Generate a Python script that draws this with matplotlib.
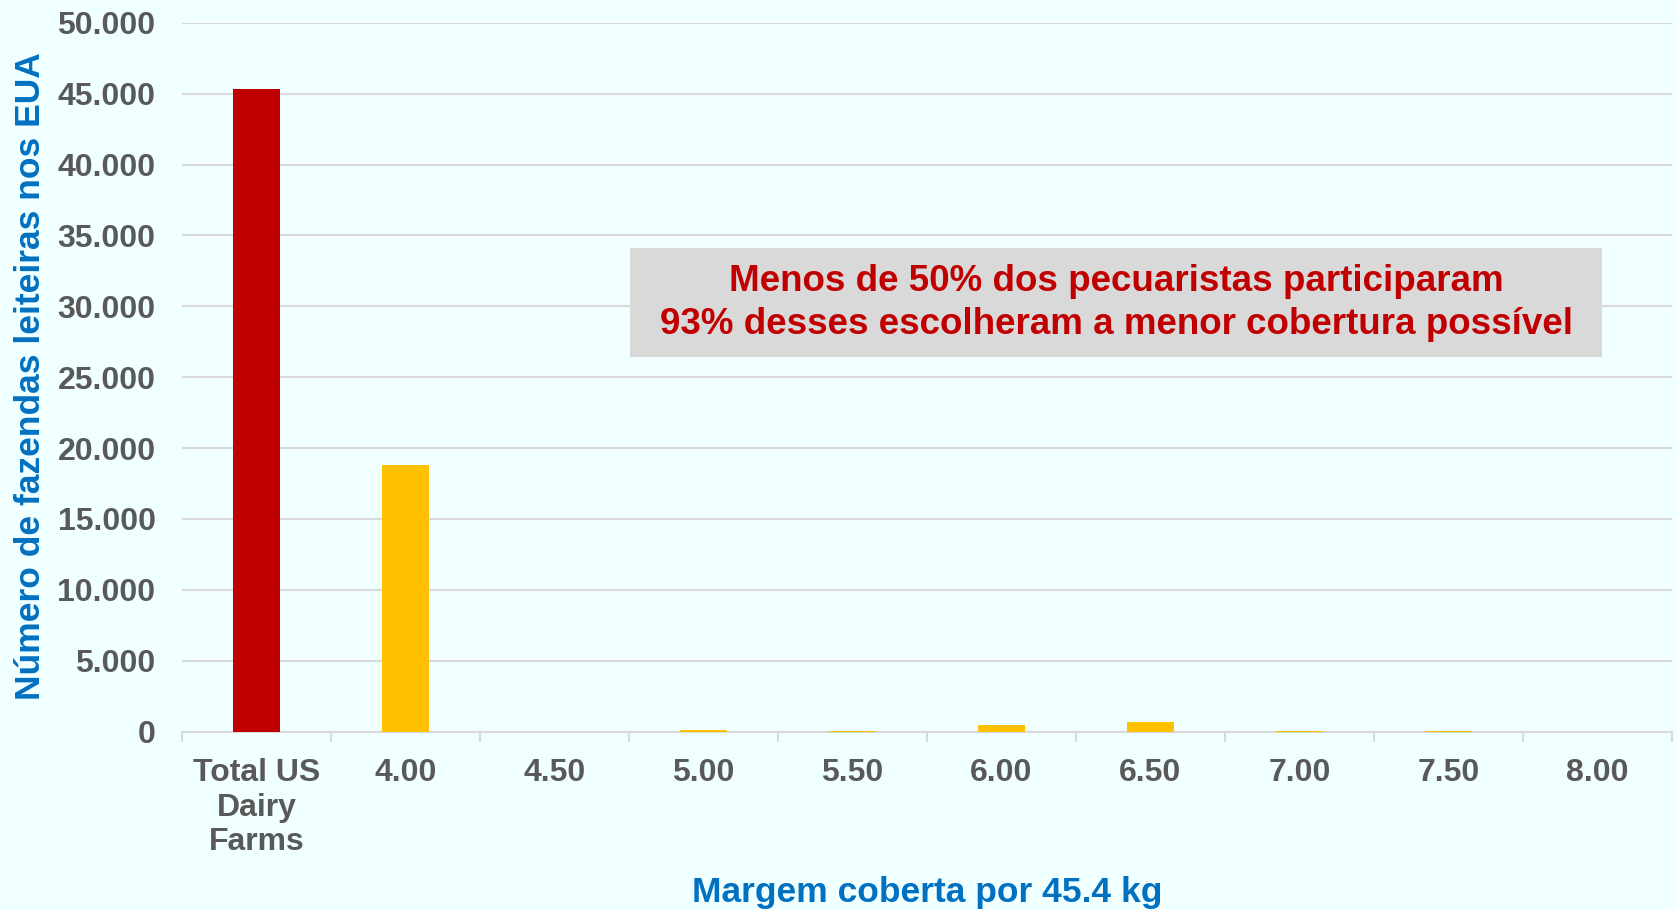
import matplotlib
matplotlib.use("Agg")
import matplotlib.pyplot as plt
from matplotlib.ticker import FuncFormatter, FixedLocator
from matplotlib.patches import Rectangle

categories = ["Total US\nDairy\nFarms", "4.00", "4.50", "5.00", "5.50", "6.00", "6.50", "7.00", "7.50", "8.00"]
values = [45300, 18800, 0, 100, 50, 490, 690, 30, 30, 0]
colors = ["#C00000"] + ["#FFC000"] * 9

bg = "#F0FFFF"
plt.rcParams['font.family'] = ['Liberation Sans', 'DejaVu Sans']

fig = plt.figure(figsize=(16.77, 9.10), dpi=100, facecolor=bg)
ax = fig.add_axes([0.1085, 0.196, 0.8885, 0.779])
ax.set_facecolor(bg)

x = list(range(len(categories)))
ax.bar(x, values, width=0.32, color=colors, zorder=3)

ax.set_xlim(-0.5, len(categories) - 0.5)
ax.set_ylim(0, 50000)
ax.set_yticks(range(0, 50001, 5000))
ax.yaxis.set_major_formatter(FuncFormatter(lambda v, p: f"{int(v):,}".replace(",", ".")))
ax.grid(axis='y', color='#D9D9D9', linewidth=1.5, zorder=0)
ax.set_axisbelow(True)

for s in ['left', 'right', 'top']:
    ax.spines[s].set_visible(False)
ax.spines['bottom'].set_color('#D9D9D9')
ax.spines['bottom'].set_linewidth(1.5)

ax.set_xticks(x)
ax.set_xticklabels(categories, fontsize=23, fontweight='bold', color='#595959', linespacing=1.2)
ax.xaxis.set_minor_locator(FixedLocator([i - 0.5 for i in range(len(categories) + 1)]))
ax.tick_params(axis='x', which='major', length=0, pad=19)
ax.tick_params(axis='x', which='minor', length=7, width=1.5, color='#D9D9D9')
ax.tick_params(axis='y', length=0, pad=19, labelsize=23, labelcolor='#595959')
for lab in ax.get_yticklabels():
    lab.set_fontweight('bold')

fig.text(0.553, 0.019, "Margem coberta por 45.4 kg", ha='center', va='center',
         fontsize=25.5, fontweight='bold', color='#0070C0')
fig.text(0.018, 0.587, "Número de fazendas leiteiras nos EUA", ha='center', va='center',
         rotation=90, fontsize=25.5, fontweight='bold', color='#0070C0')

ax.add_patch(Rectangle((0.3008, 0.528), 0.6525, 0.154, transform=ax.transAxes,
                       facecolor='#D9D9D9', edgecolor='none', zorder=4))
ax.text(0.627, 0.605, "Menos de 50% dos pecuaristas participaram\n93% desses escolheram a menor cobertura possível",
        transform=ax.transAxes, ha='center', va='center', fontsize=26.5, fontweight='bold',
        color='#C00000', linespacing=1.3, zorder=5)

fig.savefig("out.png", dpi=100, facecolor=bg)
